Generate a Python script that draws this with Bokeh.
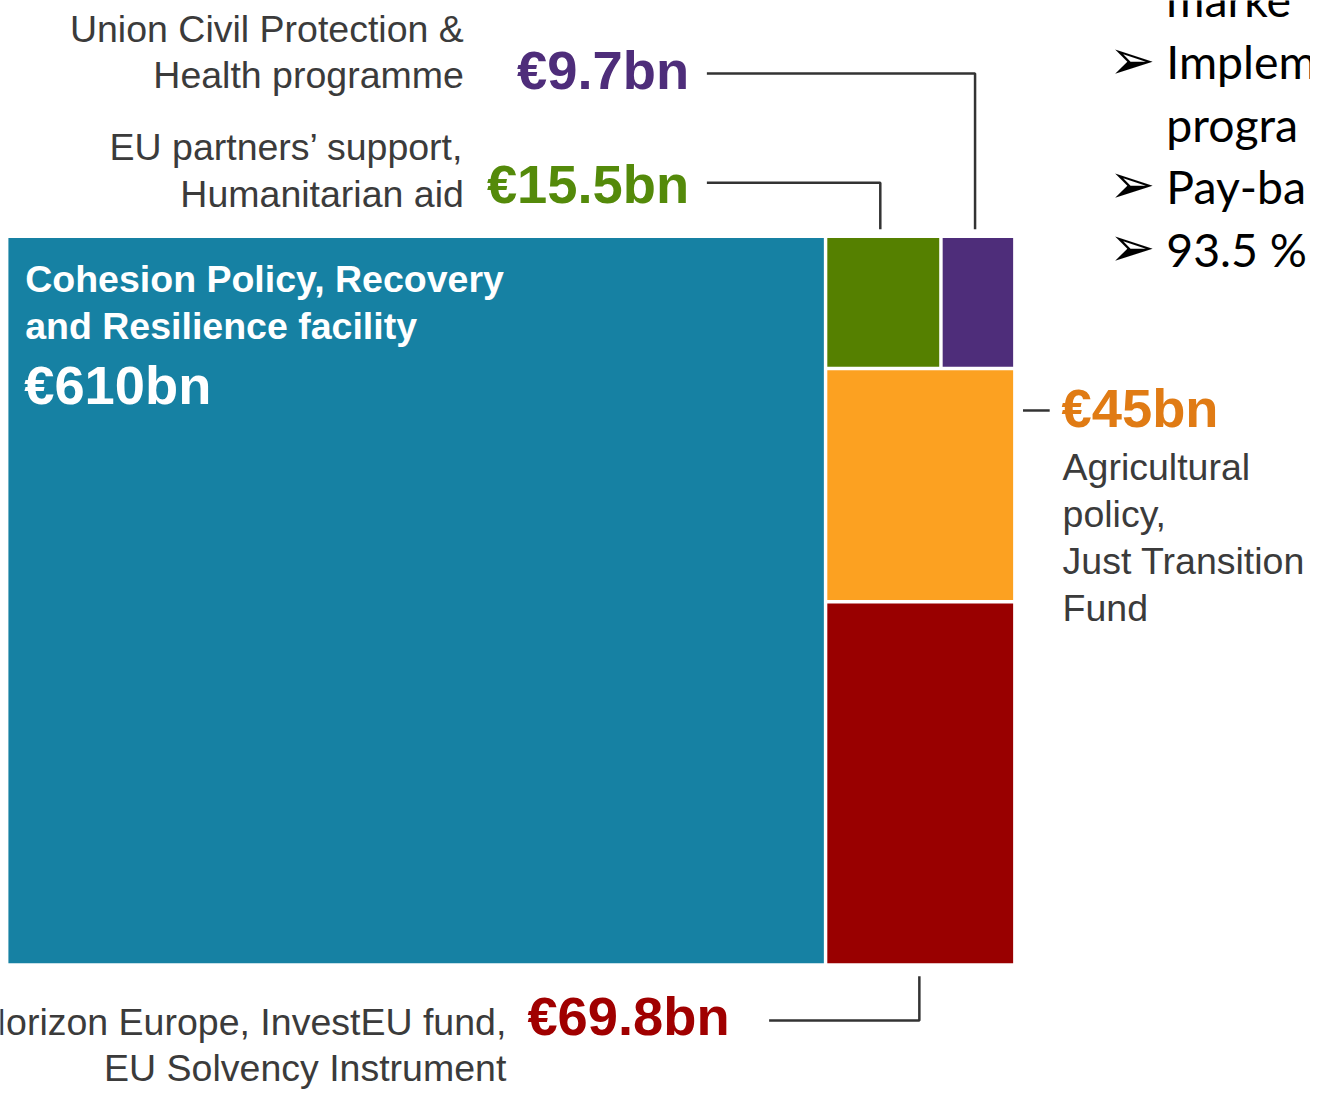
from bokeh.plotting import figure
from bokeh.models import Range1d
from bokeh.core.properties import value
from bokeh.embed import file_html
from bokeh.resources import INLINE

# ---------------- data ----------------
programme_lines = [
    ["Cohesion Policy, Recovery", "and Resilience facility"],
    ["Horizon Europe, InvestEU fund,", "EU Solvency Instrument"],
    ["Agricultural", "policy,", "Just Transition", "Fund"],
    ["EU partners\u2019 support,", "Humanitarian aid"],
    ["Union Civil Protection &", "Health programme"],
]
amounts = [610, 69.8, 45, 15.5, 9.7]
value_labels = ["\u20ac610bn", "\u20ac69.8bn", "\u20ac45bn", "\u20ac15.5bn", "\u20ac9.7bn"]
tile_colors = ["#1681a3", "#990000", "#fca121", "#558000", "#4e2d7a"]
label_colors = ["#ffffff", "#a00000", "#e07b14", "#548a0a", "#4e2d7a"]
slide_lines = ["marke", "Implem", "progra", "Pay-ba", "93.5 %"]
slide_bullets = [False, True, False, True, True]

# ---------------- figure (reference-pixel coordinates, scaled to fit) ----------------
W, H = 1310, 1090
RW, RH = 1326, 1106
K = W / RW  # font scale
p = figure(width=W, height=H, output_backend="svg", toolbar_location=None,
           x_range=Range1d(0, RW), y_range=Range1d(RH, 0),
           min_border=0, outline_line_color=None)
p.axis.visible = False
p.grid.visible = False
p.background_fill_color = "white"
p.border_fill_color = "white"

# ---------------- treemap layout from values ----------------
BX0, BY0, BX1, BY1 = 8, 241, 1025, 977
total = sum(amounts)
xs = BX0 + (BX1 - BX0) * amounts[0] / total
rest = sum(amounts[1:])
h = BY1 - BY0
top_row = amounts[3] + amounts[4]
y_top_row_end = BY0 + h * top_row / rest
y_orange_end = y_top_row_end + h * amounts[2] / rest
x_green_end = xs + (BX1 - xs) * amounts[3] / top_row

tiles = [
    (BX0, xs, BY0, BY1),                       # cohesion
    (xs, BX1, y_orange_end, BY1),              # horizon
    (xs, BX1, y_top_row_end, y_orange_end),    # agricultural
    (xs, x_green_end, BY0, y_top_row_end),     # partners
    (x_green_end, BX1, BY0, y_top_row_end),    # civil protection
]
G = 1.75
lefts, rights, tops, bottoms = [], [], [], []
for (l, r, t, b) in tiles:
    lefts.append(l + (G if l > BX0 else 0))
    rights.append(r - (G if r < BX1 else 0))
    tops.append(t + (G if t > BY0 else 0))
    bottoms.append(b - (G if b < BY1 else 0))

p.quad(left=lefts, right=rights, top=tops, bottom=bottoms,
       fill_color=tile_colors, line_color=None)

GRAY = "#3b3b3b"
SANS = value("Liberation Sans")

def txt(x, yc, s, size, color, align="left", bold=False, font=SANS, k=0.03):
    """yc = desired vertical centre of capitals (reference pixels)."""
    fs = size * K
    p.text(x=[x], y=[yc - k * size], text=[s], text_font=font,
           text_font_size=f"{fs:.1f}px", text_color=color,
           text_align=align, text_baseline="alphabetic",
           text_font_style="bold" if bold else "normal")

def conn(xs_, ys_):
    p.line(xs_, ys_, line_color="#333333", line_width=2.5)

# cohesion label inside tile
txt(25, 284, programme_lines[0][0], 38, label_colors[0], bold=True)
txt(25, 331, programme_lines[0][1], 38, label_colors[0], bold=True)
txt(24, 392, value_labels[0], 55, label_colors[0], bold=True)

# civil protection (purple) label with connector
cx_purple = (tiles[4][0] + tiles[4][1]) / 2
txt(469, 30, programme_lines[4][0], 38, GRAY, align="right")
txt(469, 77, programme_lines[4][1], 38, GRAY, align="right")
txt(697, 73, value_labels[4], 55, label_colors[4], align="right", bold=True)
conn([715, cx_purple - 2, cx_purple - 2], [74, 74, 232])

# partners (green)
cx_green = (tiles[3][0] + tiles[3][1]) / 2
txt(469, 150, programme_lines[3][0], 38, GRAY, align="right")
txt(469, 197, programme_lines[3][1], 38, GRAY, align="right")
txt(697, 188, value_labels[3], 55, label_colors[3], align="right", bold=True)
conn([715, cx_green - 3, cx_green - 3], [185, 185, 232])

# agricultural (orange)
conn([1035, 1062], [416, 416])
txt(1074, 416, value_labels[2], 55, label_colors[2], bold=True)
for i, s in enumerate(programme_lines[2]):
    txt(1075, 474 + 47.7 * i, s, 38, GRAY)

# horizon (red)
cx_red = (tiles[1][0] + tiles[1][1]) / 2
conn([778, cx_red, cx_red], [1035, 1035, 990])
txt(738, 1033, value_labels[1], 55, label_colors[1], align="right", bold=True)
txt(512, 1038, programme_lines[1][0], 38, GRAY, align="right")
txt(512, 1084, programme_lines[1][1], 38, GRAY, align="right")

# slide text on the right (clipped, as in the source)
for i, (s, bullet) in enumerate(zip(slide_lines, slide_bullets)):
    yc = 0 + 63.3 * i
    if bullet:
        txt(1122, yc, "\u27a2", 56, "#000000", font=value("DejaVu Sans"), k=0.06)
    txt(1180, yc, s, 47, "#000000", font=value("Lato"))

open("out.html", "w").write(file_html(p, INLINE))
